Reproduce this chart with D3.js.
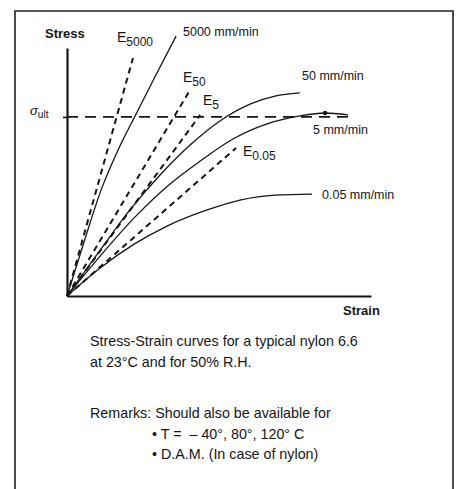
<!DOCTYPE html>
<html>
<head>
<meta charset="utf-8">
<script src="https://cdn.jsdelivr.net/npm/d3@7"></script>
<style>
  html, body { margin: 0; padding: 0; background: #fff; }
  svg { display: block; }
  text { font-family: "Liberation Sans", Arial, Helvetica, sans-serif; fill: #161616; }
</style>
</head>
<body>
<svg id="chart" width="456" height="489"></svg>
<script>
// ---- data (schematic units: strain 0..100, stress 0..100) ----
const curveNames = ["5000 mm/min", "50 mm/min", "5 mm/min", "0.05 mm/min"];
const strain5000 = [0, 5.6, 11.2, 16.8, 22.4, 28.9, 35.9];
const stress5000 = [0, 21.8, 42.7, 58.9, 72.6, 88.3, 104.8];
const strain50 = [0, 10.9, 20.7, 30.6, 40.5, 50.3, 60.2, 68.4, 76.6];
const stress50 = [0, 18.5, 34.7, 48.8, 60.9, 70.6, 77.4, 80.6, 81.9];
const strain5 = [0, 10.9, 22.4, 33.9, 43.8, 54.6, 65.8, 76.6, 84.9, 92.4];
const stress5 = [0, 16.1, 31.9, 45.2, 54.4, 63.3, 69.4, 72.6, 73.8, 73.0];
const strain005 = [0, 10.9, 21.7, 32.9, 46.1, 56.9, 68.4, 80.6];
const stress005 = [0, 11.3, 20.6, 28.2, 34.7, 38.7, 40.7, 41.1];

const modulusNames = ["5000", "50", "5", "0.05"];
const modulusEndStrain = [21.7, 40.1, 43.8, 55.6];
const modulusEndStress = [96, 82.3, 73, 59.7];

const sigmaUlt = 72.2;
const sigmaUltEndStrain = 92.4;
const ultPoint = [84.9, 73.8];

const captionLines = ["Stress-Strain curves for a typical nylon 6.6", "at 23°C and for 50% R.H."];
const remarkLines = ["Remarks: Should also be available for", "• T =\u00a0\u00a0– 40°, 80°, 120° C", "• D.A.M. (In case of nylon)"];

// ---- drawing ----
const svg = d3.select("#chart");
const ink = "#161616";

// frame (open at the bottom)
svg.append("path")
  .attr("d", "M15,489 V11 H453 V489")
  .attr("fill", "none").attr("stroke", "#222").attr("stroke-width", 1.6);

const x = d3.scaleLinear().domain([0, 100]).range([67, 371]);
const y = d3.scaleLinear().domain([0, 100]).range([296, 48]);

// axes
const gx = svg.append("g").attr("transform", `translate(0,${y(0)})`)
  .call(d3.axisBottom(x).tickValues([]).tickSizeOuter(0));
gx.select(".domain").attr("stroke", ink).attr("stroke-width", 2.2);

const gy = svg.append("g").attr("transform", `translate(${x(0)},0)`)
  .call(d3.axisLeft(y).tickValues([sigmaUlt]).tickSize(4).tickSizeOuter(0).tickFormat(""));
gy.select(".domain").attr("stroke", ink).attr("stroke-width", 2.2);
gy.selectAll(".tick line").attr("stroke", ink).attr("stroke-width", 1.6);

// sigma_ult dashed line
svg.append("line")
  .attr("x1", x(0)).attr("x2", x(sigmaUltEndStrain))
  .attr("y1", y(sigmaUlt)).attr("y2", y(sigmaUlt))
  .attr("stroke", ink).attr("stroke-width", 1.8).attr("stroke-dasharray", "11,7");

// modulus dashed lines
modulusNames.forEach((n, i) => {
  svg.append("line")
    .attr("x1", x(0)).attr("y1", y(0))
    .attr("x2", x(modulusEndStrain[i])).attr("y2", y(modulusEndStress[i]))
    .attr("stroke", ink).attr("stroke-width", 2).attr("stroke-dasharray", "6,4.5");
});

// curves
const curves = [
  [strain5000, stress5000],
  [strain50, stress50],
  [strain5, stress5],
  [strain005, stress005]
];
const line = d3.line().x(d => x(d[0])).y(d => y(d[1])).curve(d3.curveMonotoneX);
curves.forEach(([sx, sy]) => {
  svg.append("path")
    .attr("d", line(sx.map((v, i) => [v, sy[i]])))
    .attr("fill", "none").attr("stroke", ink).attr("stroke-width", 1.3);
});

// ultimate point
svg.append("circle").attr("cx", x(ultPoint[0])).attr("cy", y(ultPoint[1])).attr("r", 2.2).attr("fill", ink);

// axis titles
svg.append("text").attr("x", 45).attr("y", 38).attr("font-size", 13).attr("font-weight", "bold").text("Stress");
svg.append("text").attr("x", 343).attr("y", 315).attr("font-size", 13).attr("font-weight", "bold").text("Strain");

// sigma_ult label
const su = svg.append("text").attr("x", 30).attr("y", y(sigmaUlt) - 2).attr("font-size", 13);
su.append("tspan").attr("font-style", "italic").text("σ");
su.append("tspan").attr("font-size", 10).attr("dy", 3).text("ult");

// curve labels
const curveLabelPos = [[183, 36], [302, 80], [313, 134], [322, 199]];
curveNames.forEach((n, i) => {
  svg.append("text").attr("x", curveLabelPos[i][0]).attr("y", curveLabelPos[i][1])
    .attr("font-size", 12.5).text(n);
});

// modulus labels
const modLabelPos = [[117, 42], [183, 82], [203, 105], [243, 156]];
modulusNames.forEach((n, i) => {
  const t = svg.append("text").attr("x", modLabelPos[i][0]).attr("y", modLabelPos[i][1]).attr("font-size", 14);
  t.append("tspan").text("E");
  t.append("tspan").attr("font-size", 12).attr("dy", 4).text(n);
});

// caption
const fs = 14.3;
captionLines.forEach((s, i) => {
  svg.append("text").attr("x", 90).attr("y", 346 + i * 21).attr("font-size", fs).text(s);
});
svg.append("text").attr("x", 90).attr("y", 418).attr("font-size", fs).text(remarkLines[0]);
svg.append("text").attr("x", 152).attr("y", 439).attr("font-size", fs).text(remarkLines[1]);
svg.append("text").attr("x", 152).attr("y", 459).attr("font-size", fs).text(remarkLines[2]);
</script>
</body>
</html>
